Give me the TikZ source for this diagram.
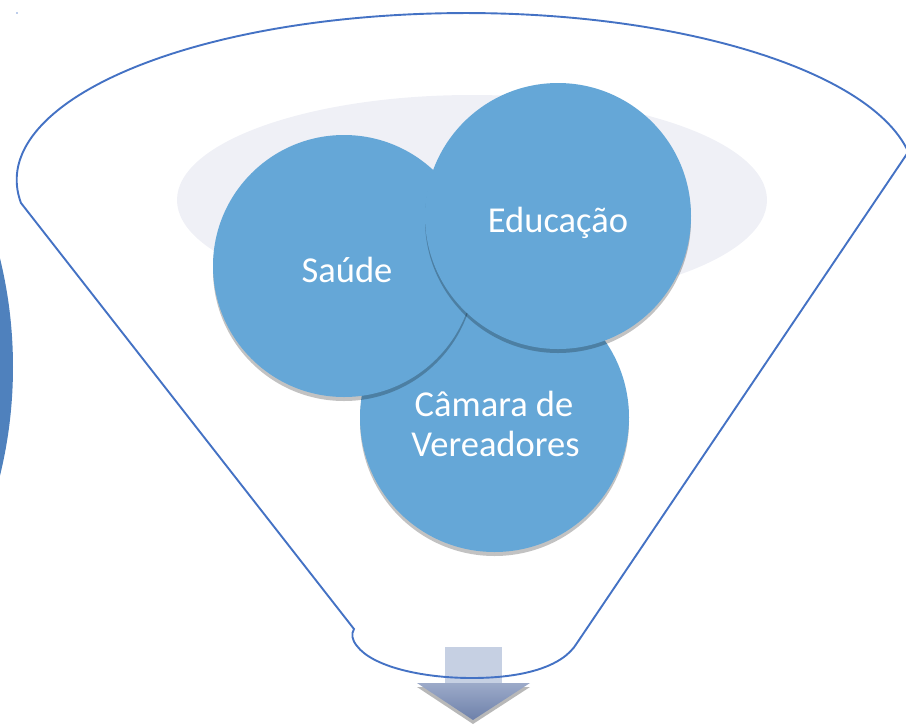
\documentclass[tikz,border=0pt]{standalone}
\usepackage{fontspec}
\setmainfont{Carlito}
\usetikzlibrary{shadows}
\definecolor{funnelblue}{RGB}{68,114,196}
\definecolor{circblue}{RGB}{101,167,215}
\definecolor{bigblue}{RGB}{79,129,189}
\definecolor{paleel}{RGB}{239,240,246}
\definecolor{shaftc}{RGB}{198,208,227}
\definecolor{headtop}{RGB}{156,170,201}
\definecolor{headbot}{RGB}{110,129,170}
\begin{document}
\begin{tikzpicture}[x=1pt,y=-1pt,
  circ/.style={circle, fill=circblue, inner sep=0pt,
    drop shadow={shadow xshift=0pt, shadow yshift=-4pt, opacity=0.24, fill=black}},
  lbl/.style={text=white, inner sep=0pt, font=\fontsize{36.5}{40}\selectfont},
  funnel/.style={draw=funnelblue, line width=1.9pt, line join=miter}
]
\useasboundingbox (0,0) rectangle (906,724);
\begin{scope}
\clip (0,0) rectangle (906,724);
% big circle at the left edge
\fill[bigblue] (-444,367) circle[radius=457];
% tiny dot
\fill[funnelblue!70] (17,13) circle[radius=0.8];
% arrow
\fill[black!28] (417,687) -- (530,687) -- (473,724) -- cycle;
\fill[shaftc] (445,647) rectangle (502,684);
\shade[top color=headtop, bottom color=headbot] (417,683) -- (530,683) -- (473,720) -- cycle;
% funnel outline
\draw[funnel] (21,203) arc[start angle=172.1, end angle=350.3, x radius=449, y radius=167]
  -- (577,643) .. controls (562,668) and (520,678) .. (472,678)
  .. controls (420,678) and (372,666) .. (357,646)
  .. controls (352,640) and (351,634) .. (354,629) -- cycle;
% pale ellipse
\fill[paleel] (472,200) ellipse[x radius=295, y radius=105];
\end{scope}
% circles
\node[circ, minimum size=269pt] (camara) at (494.5,417.5) {};
\node[circ, minimum size=262pt] (saude) at (344,266) {};
\node[circ, minimum size=266pt] (educacao) at (558,216) {};
% labels
\node[lbl, anchor=base] (tsaude) at (347,282) {Saúde};
\node[lbl, anchor=base] (teduc) at (558,232) {Educação};
\node[lbl, anchor=base] (tcam1) at (494,416) {Câmara de};
\node[lbl, anchor=base] (tcam2) at (495.5,456) {Vereadores};
\end{tikzpicture}
\end{document}
